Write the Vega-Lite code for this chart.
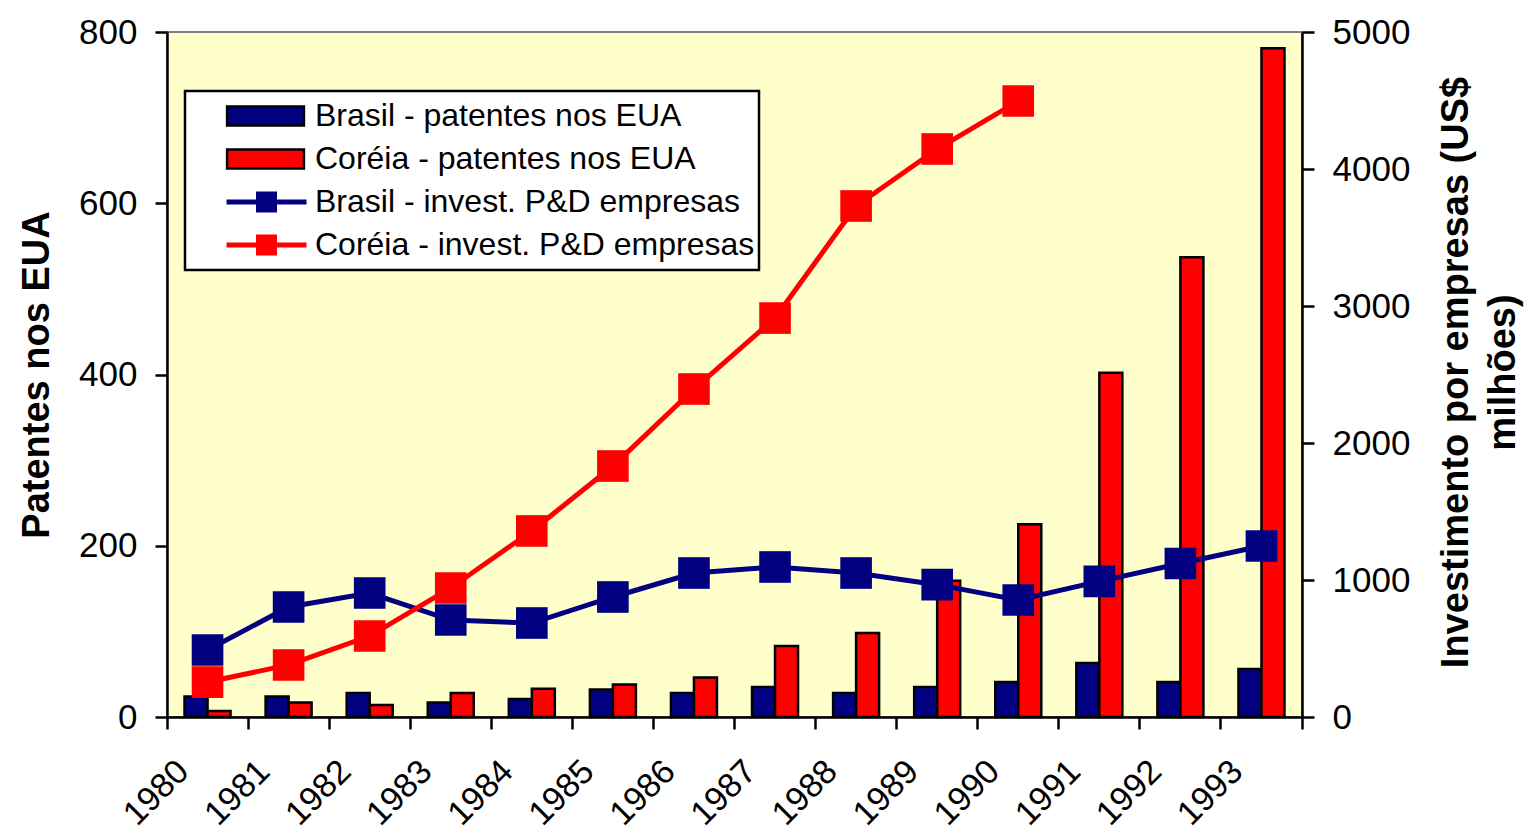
{
  "$schema": "https://vega.github.io/schema/vega-lite/v6.json",
  "width": 1135,
  "height": 685,
  "autosize": "none",
  "padding": {"left": 167, "top": 32, "right": 230, "bottom": 114},
  "background": "white",
  "config": {
    "view": {"fill": "#FFFFCC", "stroke": "#808080", "strokeWidth": 2},
    "font": "Liberation Sans",
    "legend": {"strokeWidth": 2.5},
    "axis": {
      "domainColor": "black", "domainWidth": 2.5,
      "tickColor": "black", "tickWidth": 2.5, "tickSize": 12,
      "labelFont": "Liberation Sans", "labelFontSize": 35, "labelColor": "black", "labelPadding": 18,
      "titleFont": "Liberation Sans", "titleFontSize": 38, "titleFontWeight": "bold", "titleColor": "black",
      "grid": false
    }
  },
  "datasets": {
    "patentes": [
      {"ano": "1980", "pais": "Brasil", "serie": "Brasil - patentes nos EUA", "valor": 24},
      {"ano": "1981", "pais": "Brasil", "serie": "Brasil - patentes nos EUA", "valor": 24},
      {"ano": "1982", "pais": "Brasil", "serie": "Brasil - patentes nos EUA", "valor": 28},
      {"ano": "1983", "pais": "Brasil", "serie": "Brasil - patentes nos EUA", "valor": 17},
      {"ano": "1984", "pais": "Brasil", "serie": "Brasil - patentes nos EUA", "valor": 21},
      {"ano": "1985", "pais": "Brasil", "serie": "Brasil - patentes nos EUA", "valor": 32},
      {"ano": "1986", "pais": "Brasil", "serie": "Brasil - patentes nos EUA", "valor": 28},
      {"ano": "1987", "pais": "Brasil", "serie": "Brasil - patentes nos EUA", "valor": 35},
      {"ano": "1988", "pais": "Brasil", "serie": "Brasil - patentes nos EUA", "valor": 28},
      {"ano": "1989", "pais": "Brasil", "serie": "Brasil - patentes nos EUA", "valor": 35},
      {"ano": "1990", "pais": "Brasil", "serie": "Brasil - patentes nos EUA", "valor": 41},
      {"ano": "1991", "pais": "Brasil", "serie": "Brasil - patentes nos EUA", "valor": 63},
      {"ano": "1992", "pais": "Brasil", "serie": "Brasil - patentes nos EUA", "valor": 41},
      {"ano": "1993", "pais": "Brasil", "serie": "Brasil - patentes nos EUA", "valor": 56},
      {"ano": "1980", "pais": "Coréia", "serie": "Coréia - patentes nos EUA", "valor": 7},
      {"ano": "1981", "pais": "Coréia", "serie": "Coréia - patentes nos EUA", "valor": 17},
      {"ano": "1982", "pais": "Coréia", "serie": "Coréia - patentes nos EUA", "valor": 14},
      {"ano": "1983", "pais": "Coréia", "serie": "Coréia - patentes nos EUA", "valor": 28},
      {"ano": "1984", "pais": "Coréia", "serie": "Coréia - patentes nos EUA", "valor": 33},
      {"ano": "1985", "pais": "Coréia", "serie": "Coréia - patentes nos EUA", "valor": 38},
      {"ano": "1986", "pais": "Coréia", "serie": "Coréia - patentes nos EUA", "valor": 46},
      {"ano": "1987", "pais": "Coréia", "serie": "Coréia - patentes nos EUA", "valor": 83},
      {"ano": "1988", "pais": "Coréia", "serie": "Coréia - patentes nos EUA", "valor": 98},
      {"ano": "1989", "pais": "Coréia", "serie": "Coréia - patentes nos EUA", "valor": 159},
      {"ano": "1990", "pais": "Coréia", "serie": "Coréia - patentes nos EUA", "valor": 225},
      {"ano": "1991", "pais": "Coréia", "serie": "Coréia - patentes nos EUA", "valor": 402},
      {"ano": "1992", "pais": "Coréia", "serie": "Coréia - patentes nos EUA", "valor": 537},
      {"ano": "1993", "pais": "Coréia", "serie": "Coréia - patentes nos EUA", "valor": 781}
    ],
    "invest": [
      {"ano": "1980", "serie": "Brasil - invest. P&D empresas", "valor": 489},
      {"ano": "1981", "serie": "Brasil - invest. P&D empresas", "valor": 803},
      {"ano": "1982", "serie": "Brasil - invest. P&D empresas", "valor": 905},
      {"ano": "1983", "serie": "Brasil - invest. P&D empresas", "valor": 708},
      {"ano": "1984", "serie": "Brasil - invest. P&D empresas", "valor": 686},
      {"ano": "1985", "serie": "Brasil - invest. P&D empresas", "valor": 876},
      {"ano": "1986", "serie": "Brasil - invest. P&D empresas", "valor": 1051},
      {"ano": "1987", "serie": "Brasil - invest. P&D empresas", "valor": 1095},
      {"ano": "1988", "serie": "Brasil - invest. P&D empresas", "valor": 1051},
      {"ano": "1989", "serie": "Brasil - invest. P&D empresas", "valor": 966},
      {"ano": "1990", "serie": "Brasil - invest. P&D empresas", "valor": 854},
      {"ano": "1991", "serie": "Brasil - invest. P&D empresas", "valor": 990},
      {"ano": "1992", "serie": "Brasil - invest. P&D empresas", "valor": 1120},
      {"ano": "1993", "serie": "Brasil - invest. P&D empresas", "valor": 1248},
      {"ano": "1980", "serie": "Coréia - invest. P&D empresas", "valor": 255},
      {"ano": "1981", "serie": "Coréia - invest. P&D empresas", "valor": 380},
      {"ano": "1982", "serie": "Coréia - invest. P&D empresas", "valor": 591},
      {"ano": "1983", "serie": "Coréia - invest. P&D empresas", "valor": 942},
      {"ano": "1984", "serie": "Coréia - invest. P&D empresas", "valor": 1358},
      {"ano": "1985", "serie": "Coréia - invest. P&D empresas", "valor": 1832},
      {"ano": "1986", "serie": "Coréia - invest. P&D empresas", "valor": 2394},
      {"ano": "1987", "serie": "Coréia - invest. P&D empresas", "valor": 2912},
      {"ano": "1988", "serie": "Coréia - invest. P&D empresas", "valor": 3730},
      {"ano": "1989", "serie": "Coréia - invest. P&D empresas", "valor": 4146},
      {"ano": "1990", "serie": "Coréia - invest. P&D empresas", "valor": 4496}
    ]
  },
  "layer": [
    {
      "data": {"name": "patentes"},
      "mark": {"type": "bar", "stroke": "black", "strokeWidth": 2.5, "opacity": 1},
      "encoding": {
        "x": {
          "field": "ano", "type": "ordinal",
          "scale": {"paddingInner": 0, "paddingOuter": 0},
          "axis": {
            "title": null, "labelAngle": 315, "labelAlign": "right", "labelBaseline": "middle",
            "labelOffset": -24, "labelPadding": 37, "labelFontSize": 34,
            "bandPosition": 1, "tickExtra": true, "labelOverlap": false
          }
        },
        "xOffset": {
          "field": "pais", "type": "nominal",
          "scale": {"domain": ["Brasil", "Coréia"], "paddingInner": 0, "paddingOuter": 0.762}
        },
        "y": {
          "field": "valor", "type": "quantitative",
          "scale": {"domain": [0, 800], "nice": false},
          "axis": {"title": "Patentes nos EUA", "values": [0, 200, 400, 600, 800], "format": "d", "titlePadding": 22}
        },
        "color": {
          "field": "serie", "type": "nominal",
          "scale": {
            "domain": ["Brasil - patentes nos EUA", "Coréia - patentes nos EUA"],
            "range": ["#000080", "#FF0000"]
          },
          "legend": {
            "title": null, "orient": "none", "legendX": 18, "legendY": 59, "padding": 4,
            "symbolSize": 6400, "symbolType": "M-0.96,-0.24H0.96V0.24H-0.96Z",
            "symbolStrokeColor": "black", "symbolStrokeWidth": 2.5, "symbolOpacity": 1,
            "labelFontSize": 32, "labelFont": "Liberation Sans", "labelExpr": "''",
            "labelOffset": 6, "symbolOffset": 35, "rowPadding": 1, "clipHeight": 42, "zindex": 2
          }
        }
      }
    },
    {
      "data": {"name": "invest"},
      "encoding": {
        "x": {"field": "ano", "type": "ordinal"},
        "y": {
          "field": "valor", "type": "quantitative",
          "scale": {"domain": [0, 5000], "nice": false},
          "axis": {
            "orient": "right", "title": ["Investimento por empresas (US$", "milhões)"],
            "values": [0, 1000, 2000, 3000, 4000, 5000], "format": "d",
            "titleAngle": 270, "titleBaseline": "top", "titleAlign": "center",
            "titleX": 135, "titleY": 340, "titleLineHeight": 47
          }
        }
      },
      "layer": [
        {
          "mark": {"type": "line", "strokeWidth": 5},
          "encoding": {
            "stroke": {
              "field": "serie", "type": "nominal",
              "scale": {
                "domain": ["Brasil - patentes nos EUA", "Coréia - patentes nos EUA", "Brasil - invest. P&D empresas", "Coréia - invest. P&D empresas"],
                "range": ["transparent", "transparent", "#000080", "#FF0000"]
              },
              "legend": {
                "title": null, "orient": "none", "legendX": 18, "legendY": 59,
                "fillColor": "white", "strokeColor": "black", "padding": 4,
                "symbolSize": 6400,
                "symbolType": "M-1,0H1M-0.2,-0.2H0.2V0.2H-0.2ZM-0.1,-0.1H0.1V0.1H-0.1ZM-0.03,-0.03H0.03V0.03H-0.03Z",
                "symbolStrokeWidth": 5, "symbolFillColor": "transparent", "symbolOpacity": 1,
                "labelFontSize": 32, "labelFont": "Liberation Sans", "labelColor": "black",
                "labelOffset": 6, "symbolOffset": 35, "rowPadding": 1, "clipHeight": 42, "labelLimit": 0,
                "zindex": 1
              }
            }
          }
        },
        {
          "mark": {"type": "point", "shape": "square", "size": 1000, "filled": true, "opacity": 1},
          "encoding": {
            "fill": {
              "field": "serie", "type": "nominal",
              "scale": {
                "domain": ["Brasil - invest. P&D empresas", "Coréia - invest. P&D empresas"],
                "range": ["#000080", "#FF0000"]
              },
              "legend": null
            }
          }
        }
      ]
    }
  ],
  "resolve": {"scale": {"y": "independent"}}
}
